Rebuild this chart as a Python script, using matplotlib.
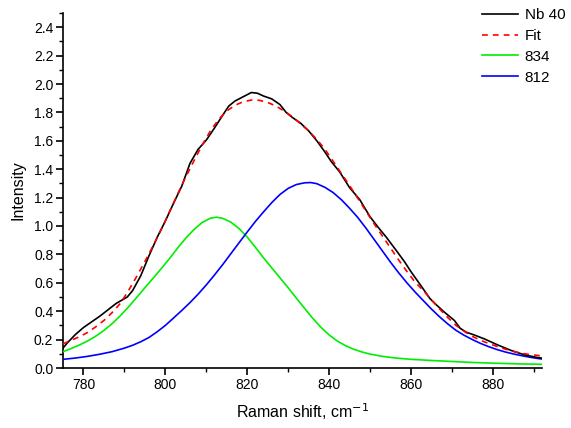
import matplotlib
matplotlib.use("Agg")
import matplotlib.pyplot as plt
from matplotlib.ticker import MultipleLocator

plt.rcParams['font.family'] = ['Liberation Sans', 'DejaVu Sans']

# Measured spectrum "Nb 40"
nb_x = [775, 776, 778, 780, 782, 784, 786, 788, 789.5, 790.7, 792, 794, 796, 798, 800,
        802, 804, 806, 808, 810, 812, 814, 815.5, 817, 819, 821, 822.5, 824, 826, 828,
        829.5, 831, 833, 835, 837, 839, 840.5, 842.6, 845, 847.5, 850, 852, 854, 856.6,
        858.5, 860, 862.3, 864.6, 866, 868, 870.6, 872, 873.5, 875.5, 878, 881.2, 884.6,
        887.8, 891, 892]
nb_y = [0.14, 0.175, 0.235, 0.285, 0.325, 0.365, 0.41, 0.455, 0.48, 0.50, 0.545, 0.65,
        0.79, 0.92, 1.035, 1.16, 1.28, 1.44, 1.54, 1.605, 1.69, 1.78, 1.845, 1.88, 1.91,
        1.94, 1.935, 1.915, 1.895, 1.855, 1.80, 1.765, 1.725, 1.67, 1.60, 1.52, 1.455,
        1.38, 1.27, 1.185, 1.065, 0.99, 0.92, 0.82, 0.745, 0.678, 0.585, 0.49, 0.45,
        0.397, 0.335, 0.28, 0.252, 0.232, 0.204, 0.162, 0.122, 0.092, 0.073, 0.07]

# Fit envelope
fit_x = [775, 777, 779, 781, 783, 785, 787, 789, 791, 793, 795, 797, 799, 801, 803, 805,
         807, 809, 811, 813, 815, 817, 819, 821, 823, 825, 827, 829, 831, 833, 835, 837,
         839, 841, 843, 845, 847, 849, 851, 853, 855, 857, 859, 861, 863, 865, 867, 869,
         871, 873, 875, 877, 879, 881, 883, 885, 887, 889, 892]
fit_y = [0.17, 0.195, 0.22, 0.25, 0.29, 0.335, 0.39, 0.455, 0.545, 0.645, 0.75, 0.86,
         0.975, 1.10, 1.225, 1.345, 1.46, 1.57, 1.67, 1.75, 1.81, 1.85, 1.875, 1.887,
         1.885, 1.87, 1.845, 1.81, 1.77, 1.72, 1.67, 1.61, 1.54, 1.455, 1.37, 1.285,
         1.195, 1.105, 1.015, 0.93, 0.845, 0.76, 0.68, 0.605, 0.545, 0.48, 0.415, 0.355,
         0.30, 0.258, 0.222, 0.195, 0.172, 0.152, 0.133, 0.117, 0.104, 0.095, 0.085]

# Component "834"
g_x = [775, 777, 779, 781, 783, 785, 787, 789, 791, 793, 795, 797, 799, 801, 803, 805,
       807, 809, 811, 812.5, 814, 816, 818, 820, 822, 824, 826, 828, 830, 832, 834, 836,
       838, 840, 842, 844, 846, 848, 850, 853, 856, 860, 865, 870, 875, 880, 886, 892]
g_y = [0.115, 0.137, 0.162, 0.19, 0.224, 0.265, 0.312, 0.368, 0.43, 0.497, 0.565, 0.632,
       0.70, 0.77, 0.845, 0.915, 0.975, 1.025, 1.055, 1.062, 1.054, 1.027, 0.982, 0.922,
       0.85, 0.775, 0.705, 0.635, 0.565, 0.492, 0.42, 0.35, 0.287, 0.233, 0.19, 0.157,
       0.132, 0.113, 0.098, 0.082, 0.071, 0.061, 0.053, 0.046, 0.039, 0.034, 0.029, 0.026]

# Component "812"
b_x = [775, 778, 781, 784, 787, 790, 792, 794, 796, 798, 800, 802, 804, 806, 808, 810,
       812, 814, 816, 818, 820, 822, 824, 826, 828, 830, 832, 834, 835.5, 837, 839, 841,
       843, 845, 847, 849, 851, 853, 855, 857, 859, 861, 863, 865, 867, 869, 871, 873,
       875, 877, 879, 881, 883, 885, 887, 889, 891, 892]
b_y = [0.061, 0.07, 0.082, 0.097, 0.115, 0.14, 0.16, 0.185, 0.215, 0.255, 0.30, 0.352,
       0.405, 0.46, 0.52, 0.585, 0.655, 0.728, 0.805, 0.882, 0.958, 1.032, 1.10, 1.165,
       1.222, 1.265, 1.292, 1.304, 1.306, 1.298, 1.272, 1.235, 1.185, 1.125, 1.06, 0.985,
       0.905, 0.825, 0.745, 0.67, 0.60, 0.535, 0.475, 0.415, 0.36, 0.31, 0.265, 0.23,
       0.20, 0.173, 0.15, 0.13, 0.113, 0.099, 0.087, 0.076, 0.067, 0.063]

fig = plt.figure(figsize=(5.71, 4.28), dpi=100)
ax = fig.add_axes([63/571, 1-368/428, (542-63)/571, (368-13)/428])

ax.plot(nb_x, nb_y, color='black', lw=1.2, label='Nb 40', zorder=4)
ax.plot(fit_x, fit_y, color='#ff0000', lw=1.2, ls=(0, (3.5, 3)), label='Fit', zorder=5)
ax.plot(g_x, g_y, color='#00ee00', lw=1.2, label='834', zorder=3)
ax.plot(b_x, b_y, color='#0000ff', lw=1.2, label='812', zorder=3)

ax.set_xlim(775, 892)
ax.set_ylim(0, 2.5)
ax.xaxis.set_major_locator(MultipleLocator(20))
ax.xaxis.set_minor_locator(MultipleLocator(10))
ax.yaxis.set_major_locator(MultipleLocator(0.2))
ax.yaxis.set_minor_locator(MultipleLocator(0.1))
ax.yaxis.set_major_formatter(plt.FuncFormatter(lambda v, p: f'{v:.1f}'))

for s in ['top', 'right']:
    ax.spines[s].set_visible(False)
for s in ['left', 'bottom']:
    ax.spines[s].set_linewidth(1.2)
ax.tick_params(which='major', direction='out', length=5, width=1.2, labelsize=10, pad=2)
ax.tick_params(which='minor', direction='out', length=3, width=1.0)

ax.set_xlabel('Raman shift, cm$^{-1}$', fontsize=11.5, labelpad=7)
ax.set_ylabel('Intensity', fontsize=11.5, labelpad=6)

fig.legend(loc='upper left', bbox_to_anchor=(482/571, 1-8/428), frameon=False,
           fontsize=11, handlelength=2.35, handletextpad=0.45, labelspacing=0.45,
           borderpad=0, borderaxespad=0)

fig.savefig('out.png', dpi=100)
